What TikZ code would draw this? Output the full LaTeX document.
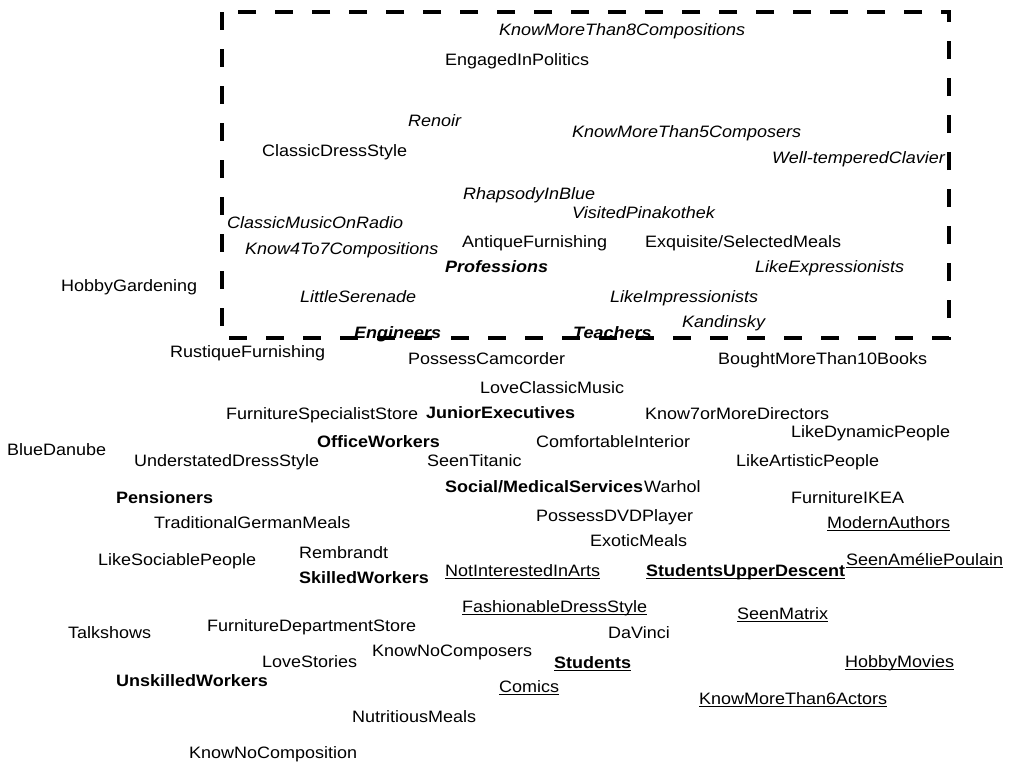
\documentclass[tikz,border=0pt]{standalone}
\usepackage{fontspec}
\setmainfont{Liberation Sans}[FakeStretch=1.09]
\newcommand\myul[1]{\setbox0\hbox{#1}\rlap{\raisebox{-3pt}{\rule{\wd0}{1.3pt}}}\box0}
\begin{document}
\begin{tikzpicture}[x=1pt,y=-1pt,
  lab/.style={anchor=base west, inner sep=0pt, font=\fontsize{16.5}{18}\selectfont},
  it/.style={lab, font=\fontsize{16.5}{18}\selectfont\itshape},
  bf/.style={lab, font=\fontsize{16.5}{18}\selectfont\bfseries},
  bi/.style={lab, font=\fontsize{16.5}{18}\selectfont\bfseries\itshape},
  frame/.style={line width=4pt, dash pattern=on 18pt off 19pt}]
\useasboundingbox (0,0) rectangle (1011,761);
\draw[frame] (222,12) rectangle (949,338);
% inside frame
\node[it] (kmt8c) at (499,35) {KnowMoreThan8Compositions};
\node[lab] (eip) at (445,65) {EngagedInPolitics};
\node[it] (renoir) at (408,126) {Renoir};
\node[it] (kmt5c) at (572,137) {KnowMoreThan5Composers};
\node[lab] (cds) at (262,156) {ClassicDressStyle};
\node[it] (wtc) at (772,163) {Well-temperedClavier};
\node[it] (rib) at (463,199) {RhapsodyInBlue};
\node[it] (vp) at (572,218) {VisitedPinakothek};
\node[it] (cmor) at (227,228) {ClassicMusicOnRadio};
\node[it] (k4t7) at (245,254) {Know4To7Compositions};
\node[lab] (af) at (462,247) {AntiqueFurnishing};
\node[lab] (esm) at (645,247) {Exquisite/SelectedMeals};
\node[bi] (prof) at (445,272) {Professions};
\node[it] (lexp) at (755,272) {LikeExpressionists};
\node[lab] (hg) at (61,291) {HobbyGardening};
\node[it] (ls) at (300,302) {LittleSerenade};
\node[it] (limp) at (610,302) {LikeImpressionists};
\node[it] (kand) at (682,327) {Kandinsky};
\node[bi] (eng) at (354,338) {Engineers};
\node[bi] (teach) at (573,338) {Teachers};
% below frame
\node[lab] (rf) at (170,357) {RustiqueFurnishing};
\node[lab] (pc) at (408,364) {PossessCamcorder};
\node[lab] (bmt10) at (718,364) {BoughtMoreThan10Books};
\node[lab] (lcm) at (480,393) {LoveClassicMusic};
\node[lab] (fss) at (226,419) {FurnitureSpecialistStore};
\node[bf] (je) at (426,418) {JuniorExecutives};
\node[lab] (k7d) at (645,419) {Know7orMoreDirectors};
\node[lab] (ldp) at (791,437) {LikeDynamicPeople};
\node[bf] (ow) at (317,447) {OfficeWorkers};
\node[lab] (ci) at (536,447) {ComfortableInterior};
\node[lab] (bd) at (7,455) {BlueDanube};
\node[lab] (uds) at (134,466) {UnderstatedDressStyle};
\node[lab] (st) at (427,466) {SeenTitanic};
\node[lab] (lap) at (736,466) {LikeArtisticPeople};
\node[bf] (sms) at (445,492) {Social/MedicalServices};
\node[lab] (warhol) at (644,492) {Warhol};
\node[lab] (fikea) at (791,503) {FurnitureIKEA};
\node[bf] (pens) at (116,503) {Pensioners};
\node[lab] (pdvd) at (536,521) {PossessDVDPlayer};
\node[lab] (tgm) at (154,528) {TraditionalGermanMeals};
\node[lab] (ma) at (827,528) {\myul{ModernAuthors}};
\node[lab] (em) at (590,546) {ExoticMeals};
\node[lab] (remb) at (299,558) {Rembrandt};
\node[lab] (lsp) at (98,565) {LikeSociablePeople};
\node[lab] (sap) at (846,565) {\myul{SeenAméliePoulain}};
\node[bf] (sw) at (299,583) {SkilledWorkers};
\node[lab] (niia) at (445,576) {\myul{NotInterestedInArts}};
\node[bf] (sud) at (646,576) {\myul{StudentsUpperDescent}};
\node[lab] (fds) at (462,612) {\myul{FashionableDressStyle}};
\node[lab] (sm) at (737,619) {\myul{SeenMatrix}};
\node[lab] (fdst) at (207,631) {FurnitureDepartmentStore};
\node[lab] (ts) at (68,638) {Talkshows};
\node[lab] (dv) at (608,638) {DaVinci};
\node[lab] (knc) at (372,656) {KnowNoComposers};
\node[lab] (lst) at (262,667) {LoveStories};
\node[bf] (stud) at (554,668) {\myul{Students}};
\node[lab] (hm) at (845,667) {\myul{HobbyMovies}};
\node[bf] (uw) at (116,686) {UnskilledWorkers};
\node[lab] (com) at (499,692) {\myul{Comics}};
\node[lab] (kmt6a) at (699,704) {\myul{KnowMoreThan6Actors}};
\node[lab] (nm) at (352,722) {NutritiousMeals};
\node[lab] (kncomp) at (189,758) {KnowNoComposition};
\end{tikzpicture}
\end{document}
